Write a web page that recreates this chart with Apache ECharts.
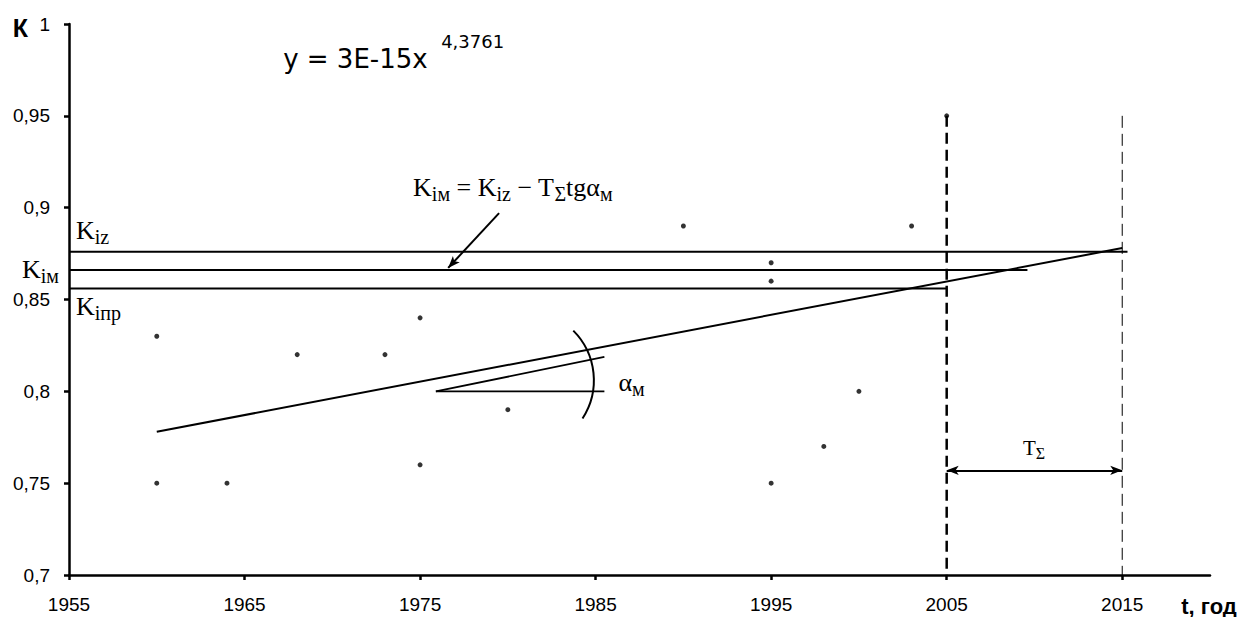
<!DOCTYPE html>
<html><head><meta charset="utf-8">
<script src="https://cdn.jsdelivr.net/npm/echarts@6/dist/echarts.min.js"></script>
<style>html,body{margin:0;padding:0;background:#fff}#c{width:1242px;height:617px}</style>
</head><body><div id="c"></div>
<script>
// ---- data ----
const xTickYears = [1955, 1965, 1975, 1985, 1995, 2005, 2015];
const yTickValues = [0.7, 0.75, 0.8, 0.85, 0.9, 0.95, 1];
const obsYears = [1960, 1960, 1964, 1968, 1973, 1975, 1975, 1980, 1990, 1995, 1995, 1995, 1998, 2000, 2003, 2005];
const obsK     = [0.83, 0.75, 0.75, 0.82, 0.82, 0.84, 0.76, 0.79, 0.89, 0.87, 0.86, 0.75, 0.77, 0.80, 0.89, 0.95];
const trendYears = [1960, 2015];
const trendK = [0.778, 0.878];
const levelNames = ['iz', 'iм', 'iпр'];
const levelK = [0.876, 0.866, 0.856];
const levelEndYears = [2015.3, 2009.6, 2005];
const periodYears = [2005, 2015];
const periodTopK = [0.95, 0.95];
const periodArrowK = 0.757;
const angleVertex = [1975.9, 0.8];
const angleEndYear = 1985.5;
const angleSlopeEndK = 0.8187;
const arcCenter = [1980.9, 0.806];
const arcRadiusYears = 4.0;
const arcStartDeg = -45, arcEndDeg = 33;
const formulaArrowFrom = [1979.5, 0.897];
const formulaArrowTo = [1976.6, 0.8672];

// text annotations: anchor year, anchor K, rich text, alignment, pixel shift
const noteYears = [1974.6, 1955.4, 1955, 1955.4, 1986.3, 2009.34, 1967.2, 1976.2, 2020];
const noteK     = [0.911, 0.8876, 0.8665, 0.846, 0.8046, 0.7692, 0.981, 0.9905, 0.7];
const noteTexts = [
  '{m|K}{s|iм}{m| = K}{s|iz}{m| − T}{s|Σ}{m|tgα}{s|м}',
  '{m|K}{s|' + levelNames[0] + '}',
  '{m|K}{s|' + levelNames[1] + '}',
  '{m|K}{s|' + levelNames[2] + '}',
  '{m|α}{s|м}',
  '{m2|T}{s2|Σ}',
  '{e|y = 3E-15x}',
  '{p|4,3761}',
  '{n|t, год}'
];
const noteAlign = ['left', 'left', 'right', 'left', 'left', 'left', 'left', 'left', 'center'];
const noteShift = [[0, 0], [0, 0], [-10, 0], [0, 0], [0, 0], [0, 0], [0, 0], [0, 0], [-1, 31]];

const axisMin = 0.7, axisMax = 1;
const fmtK = v => String(Math.round(v * 100) / 100).replace('.', ',');

const black = '#000';
const serif = 'Liberation Serif';
const sans = 'Liberation Sans';

const rich = {
  m: { fontFamily: serif, fontSize: 26, lineHeight: 33, verticalAlign: 'middle', fill: black, color: black },
  s: { fontFamily: serif, fontSize: 20, lineHeight: 18, verticalAlign: 'bottom', fill: black, color: black },
  m2: { fontFamily: serif, fontSize: 21, lineHeight: 27, verticalAlign: 'middle', fill: black, color: black },
  s2: { fontFamily: serif, fontSize: 16, lineHeight: 15, verticalAlign: 'bottom', fill: black, color: black },
  e: { fontFamily: 'DejaVu Sans', fontSize: 26, lineHeight: 30, fill: black, color: black },
  p: { fontFamily: 'DejaVu Sans', fontSize: 18, lineHeight: 20, fill: black, color: black },
  n: { fontFamily: sans, fontWeight: 'bold', fontSize: 22, lineHeight: 24, fill: black, color: black }
};

const lineBase = { type: 'line', symbol: 'none', silent: true, animation: false, z: 3 };

const series = [];
series.push({
  type: 'scatter', data: obsYears.map((y, i) => [y, obsK[i]]),
  symbol: 'circle', symbolSize: 5, itemStyle: { color: black }, silent: true, z: 5
});
series.push(Object.assign({}, lineBase, {
  data: trendYears.map((y, i) => [y, trendK[i]]),
  lineStyle: { color: black, width: 2 },
  markLine: {
    silent: true, animation: false, symbolSize: [7, 12],
    label: { show: false },
    lineStyle: { color: black, width: 2, type: 'solid' },
    data: [
      [{ coord: formulaArrowFrom, symbol: 'none' }, { coord: formulaArrowTo, symbol: 'arrow' }],
      [{ coord: [periodYears[0], periodArrowK], symbol: 'arrow' }, { coord: [periodYears[1], periodArrowK], symbol: 'arrow' }]
    ]
  }
}));
levelK.forEach((k, i) => {
  series.push(Object.assign({}, lineBase, {
    data: [[xTickYears[0], k], [levelEndYears[i], k]],
    lineStyle: { color: black, width: 2 }
  }));
});
series.push(Object.assign({}, lineBase, {
  data: [[periodYears[0], periodTopK[0]], [periodYears[0], axisMin]],
  lineStyle: { color: black, width: 2.5, type: [11, 6] }
}));
series.push(Object.assign({}, lineBase, {
  data: [[periodYears[1], periodTopK[1]], [periodYears[1], axisMin]],
  lineStyle: { color: black, width: 1, type: [12, 6] }
}));
series.push(Object.assign({}, lineBase, {
  data: [angleVertex, [angleEndYear, angleVertex[1]]],
  lineStyle: { color: black, width: 1.8 }
}));
series.push(Object.assign({}, lineBase, {
  data: [angleVertex, [angleEndYear, angleSlopeEndK]],
  lineStyle: { color: black, width: 1.8 }
}));
series.push({
  type: 'custom', silent: true, animation: false, clip: false, z: 4,
  data: [arcCenter],
  renderItem: function (params, api) {
    const c = api.coord([api.value(0), api.value(1)]);
    const e = api.coord([api.value(0) + arcRadiusYears, api.value(1)]);
    const r = e[0] - c[0];
    return {
      type: 'arc',
      shape: { cx: c[0], cy: c[1], r: r, startAngle: arcStartDeg * Math.PI / 180, endAngle: arcEndDeg * Math.PI / 180, clockwise: true },
      style: { stroke: black, fill: null, lineWidth: 2 }
    };
  }
});
series.push({
  type: 'custom', silent: true, animation: false, clip: false, z: 10,
  data: noteYears.map((y, i) => [y, noteK[i]]),
  renderItem: function (params, api) {
    const i = params.dataIndex;
    const p = api.coord([api.value(0), api.value(1)]);
    return {
      type: 'text',
      x: p[0] + noteShift[i][0], y: p[1] + noteShift[i][1],
      style: { text: noteTexts[i], rich: rich, align: noteAlign[i], verticalAlign: 'middle', fill: black }
    };
  }
});

const axisLineStyle = { color: black, width: 2.5 };
const option = {
  animation: false,
  backgroundColor: '#fff',
  grid: { left: 69, right: 32, top: 24, bottom: 42, containLabel: false, outerBoundsMode: 'none' },
  xAxis: {
    type: 'value', min: 1955, max: 2020,
    axisLine: { show: true, lineStyle: axisLineStyle },
    axisTick: { show: true, length: 5, lineStyle: axisLineStyle, customValues: xTickYears },
    axisLabel: { customValues: xTickYears, formatter: v => String(v), margin: 20, fontFamily: sans, fontSize: 19, color: black },
    splitLine: { show: false }
  },
  yAxis: {
    type: 'value', min: axisMin, max: axisMax, interval: 0.05,
    name: 'К', nameLocation: 'end', nameGap: -4,
    nameTextStyle: { fontFamily: sans, fontWeight: 'bold', fontSize: 25, color: black, align: 'right', verticalAlign: 'middle', padding: [0, 41, 0, 0] },
    axisLine: { show: true, lineStyle: axisLineStyle },
    axisTick: { show: true, length: 5, lineStyle: axisLineStyle, customValues: yTickValues },
    axisLabel: { customValues: yTickValues, formatter: fmtK, margin: 19, fontFamily: sans, fontSize: 19, color: black },
    splitLine: { show: false }
  },
  series: series
};
const chart = echarts.init(document.getElementById('c'), null, { renderer: 'svg' });
chart.setOption(option);
</script>
</body></html>
